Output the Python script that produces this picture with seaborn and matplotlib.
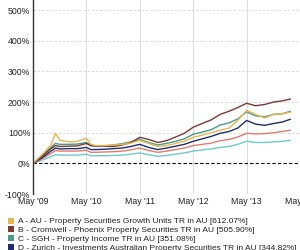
import numpy as np
import pandas as pd
import matplotlib
matplotlib.use("Agg")
import matplotlib.pyplot as plt
import matplotlib.dates as mdates
from matplotlib.patches import Patch
import seaborn as sns

dates = ["2009-05-01", "2009-07-01", "2009-09-01", "2009-10-01", "2009-11-01", "2010-01-01",
         "2010-03-01", "2010-05-01", "2010-06-01", "2010-07-01", "2010-09-01", "2010-11-01",
         "2011-01-01", "2011-03-01", "2011-05-01", "2011-07-01", "2011-09-01", "2011-11-01",
         "2012-01-01", "2012-03-01", "2012-05-01", "2012-07-01", "2012-09-01", "2012-11-01",
         "2013-01-01", "2013-03-01", "2013-05-01", "2013-07-01", "2013-09-01", "2013-11-01",
         "2014-01-01", "2014-02-25"]

series_a = [0, 28, 60, 98, 75, 70, 72, 82, 62, 58, 58, 60, 62, 66, 75, 65, 55, 58, 65, 72,
            85, 92, 100, 108, 115, 140, 173, 160, 148, 160, 162, 167]
series_b = [0, 22, 48, 58, 55, 56, 57, 65, 58, 57, 56, 55, 60, 68, 85, 78, 68, 74, 86, 98,
            118, 130, 142, 160, 170, 182, 196, 188, 192, 200, 204, 210]
series_c = [0, 25, 52, 65, 62, 62, 63, 68, 58, 56, 57, 60, 64, 70, 78, 68, 60, 65, 72, 80,
            95, 102, 110, 125, 132, 145, 168, 155, 152, 160, 162, 170]
series_d = [0, 18, 40, 50, 47, 48, 48, 52, 45, 45, 46, 48, 50, 55, 62, 52, 45, 50, 56, 62,
            72, 80, 88, 98, 104, 115, 140, 128, 124, 130, 135, 144]
series_e = [0, 15, 32, 42, 40, 40, 40, 43, 36, 36, 37, 38, 40, 44, 50, 42, 36, 40, 45, 50,
            58, 62, 66, 74, 78, 86, 98, 96, 97, 100, 104, 108]
series_f = [0, 10, 22, 28, 27, 27, 27, 30, 25, 25, 25, 26, 27, 30, 34, 28, 23, 26, 30, 34,
            40, 44, 47, 52, 55, 62, 72, 68, 68, 70, 72, 75]

legend_labels = [
    "A - AU - Property Securities Growth Units TR in AU [612.07%]",
    "B - Cromwell - Phoenix Property Securities TR in AU [505.90%]",
    "C - SGH - Property Income TR in AU [351.08%]",
    "D - Zurich - Investments Australian Property Securities TR in AU [344.82%]",
]
series_names = ["A", "B", "C", "D", "E", "F"]
colors = ["#e8b650", "#7b3a30", "#4a9a8a", "#1f2d6e", "#e27a6e", "#6ccad2"]

yticks = [-100, 0, 100, 200, 300, 400, 500]
xtick_dates = ["2009-05-01", "2010-05-01", "2011-05-01", "2012-05-01", "2013-05-01", "2014-05-01"]
xtick_labels = ["May '09", "May '10", "May '11", "May '12", "May '13", "May '14"]

rows = []
for name, vals in zip(series_names, [series_a, series_b, series_c, series_d, series_e, series_f]):
    for d, v in zip(dates, vals):
        rows.append({"date": pd.Timestamp(d), "value": v, "series": name})
df = pd.DataFrame(rows)

sns.set_style("white")
plt.rcParams["font.family"] = ["Liberation Sans", "DejaVu Sans"]

fig = plt.figure(figsize=(3.0, 2.5), dpi=100)
ax = fig.add_axes([0.11, 0.224, 0.89, 0.776])

sns.lineplot(data=df, x="date", y="value", hue="series", hue_order=series_names[::-1],
             palette=dict(zip(series_names, colors)), linewidth=1.0, legend=False, ax=ax)

ax.set_xlim(pd.Timestamp("2009-05-01"), pd.Timestamp("2014-02-25"))
ax.set_ylim(-100, 533)
ax.set_yticks(yticks)
ax.set_yticklabels([f"{t}%" for t in yticks])
ax.set_xticks([pd.Timestamp(d) for d in xtick_dates])
ax.set_xticklabels(xtick_labels)
ax.tick_params(axis="both", labelsize=6.3, colors="#222222", length=0, pad=2)
ax.set_xlabel("")
ax.set_ylabel("")

for t in yticks:
    if t == 0:
        ax.axhline(0, color="black", linestyle=(0, (3, 2)), linewidth=0.8, zorder=1)
    else:
        ax.axhline(t, color="#d6d6d6", linestyle=(0, (3, 2)), linewidth=0.6, zorder=0)
for d in xtick_dates[1:5]:
    ax.axvline(pd.Timestamp(d), color="#d6d6d6", linewidth=0.6, zorder=0)

for s in ["top", "right", "bottom"]:
    ax.spines[s].set_visible(False)
ax.spines["left"].set_color("#333333")
ax.spines["left"].set_linewidth(1.0)

handles = [Patch(facecolor=c, edgecolor="none") for c in colors[:4]]
fig.legend(handles, legend_labels, loc="upper left", bbox_to_anchor=(0.027, 0.130),
           frameon=False, fontsize=6.0, handlelength=0.75, handleheight=0.75,
           handletextpad=0.45, labelspacing=0.1, borderaxespad=0, borderpad=0,
           labelcolor="#222222")

fig.savefig("out.png", dpi=100)
